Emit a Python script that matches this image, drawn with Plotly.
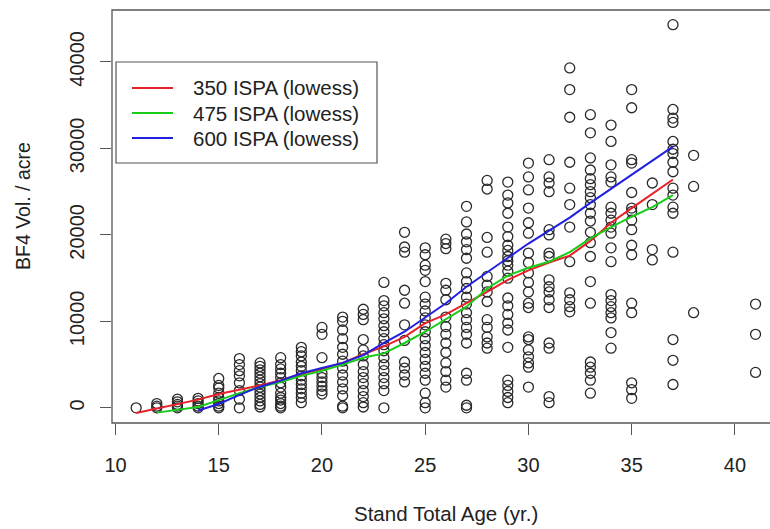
import plotly.graph_objects as go

# ---------------- data ----------------
vol_11 = [0]
vol_12 = [0, 200, 500]
vol_13 = [0, 200, 400, 700, 1000]
vol_14 = [0, 200, 500, 800, 1100]
vol_15 = [0, 200, 500, 800, 1200, 1700, 2300, 2600, 3400]
vol_16 = [5700, 5000, 4300, 3700, 2900, 2000, 1000, 0]
vol_17 = [5200, 4800, 4400, 4000, 3600, 3200, 2800, 2400, 2000, 1600, 1200, 800, 400, 100]
vol_18 = [5800, 5000, 4500, 4000, 3500, 2900, 2400, 1700, 1200, 900, 500, 200, 0]
vol_19 = [7000, 6500, 6000, 5300, 4800, 4300, 3700, 3200, 2700, 2200, 1700, 1200, 600]
vol_20 = [9300, 8500, 5800, 4000, 3500, 3000, 2500, 2000, 1600]
vol_21 = [10500, 10000, 9000, 8000, 7000, 6200, 5400, 4600, 3800, 3000, 2200, 1400, 200, 0]
vol_22 = [11400, 10800, 10200, 7900, 6700, 6000, 5000, 4200, 3500, 2800, 2000, 1300, 600, 100]
vol_23 = [14500, 12400, 11800, 11000, 10300, 9500, 8800, 8000, 7300, 6600, 5800, 5000,
          4300, 3500, 2800, 2000, 0]
vol_24 = [20300, 18600, 18000, 13600, 12100, 9600, 7800, 5300, 4600, 3800, 3000]
vol_25 = [18500, 17700, 16500, 15900, 14600, 12800, 12000, 11200, 10400, 9600, 8800, 8000,
          7200, 6400, 5600, 4800, 4000, 3200, 1700, 600, 0]
vol_26 = [19500, 19000, 18400, 14400, 13600, 12500, 10500, 9400, 8500, 7500, 6400, 5200,
          4200, 3200, 2400]
vol_27 = [23300, 21500, 20100, 19200, 18300, 17300, 15600, 14600, 13800, 12800, 12000,
          11000, 10200, 9300, 8500, 7500, 4000, 3200, 300, 0]
vol_28 = [26300, 25300, 19700, 18000, 15200, 14200, 13400, 12300, 10200, 9300, 8200, 7500, 6900]
vol_29 = [26100, 24600, 23700, 22500, 20900, 19800, 18800, 18200, 17500, 17000, 16500, 15800,
          15000, 12700, 11800, 10800, 9800, 9000, 7000, 3200, 2600, 1900, 1200, 600]
vol_30 = [28300, 26700, 25200, 23100, 21400, 20200, 17900, 16800, 15600, 14500, 13400, 12100,
          11600, 8200, 7900, 6700, 5900, 5200, 4700, 2400]
vol_31 = [28700, 26700, 26000, 25000, 20600, 20000, 17900, 17500, 14800, 14000, 13400, 12500,
          11600, 7500, 6900, 1300, 600]
vol_32 = [39300, 36800, 33600, 28400, 25400, 23500, 20900, 16900, 13300, 12500, 11700, 11100]
vol_33 = [33900, 31800, 28900, 27500, 26500, 25800, 25000, 24300, 23500, 22500, 21600, 20300,
          19100, 17500, 14600, 12100, 5300, 4700, 4000, 3200, 1700]
vol_34 = [32700, 30800, 28100, 26700, 26100, 23200, 22500, 21700, 20900, 20200, 18500, 16900,
          13100, 12400, 11700, 11000, 10400, 8700, 6900]
vol_35 = [36800, 34700, 28700, 28300, 24900, 23100, 22700, 21700, 20600, 18800, 17700, 12100,
          11000, 2900, 2100, 1100]
vol_36 = [26000, 23500, 18300, 17100]
vol_37 = [44300, 34500, 33500, 33000, 30800, 29900, 29400, 28400, 27300, 25400, 24600, 23200,
          22500, 18000, 7900, 5500, 2700]
vol_38 = [29200, 25600, 11000]
vol_41 = [12000, 8500, 4100]

ages = [11, 12, 13, 14, 15, 16, 17, 18, 19, 20, 21, 22, 23, 24, 25, 26, 27, 28, 29, 30,
        31, 32, 33, 34, 35, 36, 37, 38, 41]
vol_columns = [vol_11, vol_12, vol_13, vol_14, vol_15, vol_16, vol_17, vol_18, vol_19, vol_20,
               vol_21, vol_22, vol_23, vol_24, vol_25, vol_26, vol_27, vol_28, vol_29, vol_30,
               vol_31, vol_32, vol_33, vol_34, vol_35, vol_36, vol_37, vol_38, vol_41]

# lowess curves
low_x_350 = list(range(11, 38))
low_y_350 = [-600, -100, 450, 950, 1600, 2100, 2600, 3200, 3900, 4500, 5200, 6200, 7100, 8200,
             9800, 10800, 12100, 13400, 14800, 15900, 16800, 17600, 19300, 21400, 23100,
             24700, 26400]
low_x_475 = list(range(12, 38))
low_y_475 = [-550, -200, 100, 900, 1700, 2400, 3000, 3700, 4300, 5000, 5800, 6300, 7500, 8800,
             10200, 11700, 13800, 15300, 16200, 16900, 18000, 19600, 20900, 22100, 23200, 24600]
low_x_600 = list(range(14, 38))
low_y_600 = [-300, 450, 1500, 2450, 3150, 4000, 4600, 5200, 6100, 7500, 8800, 10400, 12100,
             14000, 15700, 17300, 19000, 20500, 22000, 23700, 25300, 27000, 28600, 30200]

series_names = ["350 ISPA (lowess)", "475 ISPA (lowess)", "600 ISPA (lowess)"]
series_colors = ["#e8202a", "#18cc18", "#2020e0"]

x_ticks = [10, 15, 20, 25, 30, 35, 40]
y_ticks = [0, 10000, 20000, 30000, 40000]
x_title = "Stand Total Age (yr.)"
y_title = "BF4 Vol. / acre"

# ---------------- figure ----------------
W, H = 770, 529
ML, MR, MT, MB = 112, 0, 10, 106
PW, PH = W - ML - MR, H - MT - MB
FONT = "Liberation Sans, Arial, sans-serif"
TXT = "#222222"


def px(x):
    return (x - ML) / PW


def py(y):
    return (H - MB - y) / PH


obs_x = [a for a, col in zip(ages, vol_columns) for _ in col]
obs_y = [v for col in vol_columns for v in col]

fig = go.Figure()
fig.add_trace(go.Scatter(
    x=obs_x, y=obs_y, mode="markers", showlegend=False,
    marker=dict(symbol="circle-open", size=10, color="#2a2a2a", line=dict(width=1.3)),
))
for xs, ys, c in [(low_x_350, low_y_350, series_colors[0]),
                  (low_x_475, low_y_475, series_colors[1]),
                  (low_x_600, low_y_600, series_colors[2])]:
    fig.add_trace(go.Scatter(x=xs, y=ys, mode="lines", showlegend=False,
                             line=dict(color=c, width=2)))

shapes = []
annotations = []
# plot frame (right side runs past the window edge like the reference)
shapes.append(dict(type="rect", xref="paper", yref="paper", x0=0, x1=1.05, y0=0, y1=1,
                   line=dict(color="#555555", width=1.3), layer="above"))
# legend box
shapes.append(dict(type="rect", xref="paper", yref="paper", x0=px(116), x1=px(377),
                   y0=py(163), y1=py(62), line=dict(color="#555555", width=1.2),
                   fillcolor="white", layer="above"))
for i, (name, c) in enumerate(zip(series_names, series_colors)):
    yy = 88 + 25 * i
    shapes.append(dict(type="line", xref="paper", yref="paper", x0=px(132), x1=px(173),
                       y0=py(yy), y1=py(yy), line=dict(color=c, width=2), layer="above"))
    annotations.append(dict(text=name, xref="paper", yref="paper", x=px(191), y=py(yy),
                            xanchor="left", yanchor="middle", showarrow=False,
                            font=dict(family=FONT, size=20.5, color=TXT)))

annotations.append(dict(text=x_title, xref="paper", yref="paper", x=px(446), y=py(513),
                        xanchor="center", yanchor="middle", showarrow=False,
                        font=dict(family=FONT, size=20.5, color=TXT)))
annotations.append(dict(text=y_title, xref="paper", yref="paper", x=px(23), y=py(206),
                        xanchor="center", yanchor="middle", showarrow=False, textangle=-90,
                        font=dict(family=FONT, size=19.5, color=TXT)))

fig.update_layout(
    width=W, height=H,
    margin=dict(l=ML, r=MR, t=MT, b=MB, pad=0),
    paper_bgcolor="white", plot_bgcolor="white",
    shapes=shapes, annotations=annotations,
    font=dict(family=FONT, size=20, color=TXT),
    xaxis=dict(range=[9.83, 41.70], tickvals=x_ticks, ticktext=[str(t) for t in x_ticks],
               ticks="outside", ticklen=11, tickwidth=1, tickcolor="#555555",
               showgrid=False, zeroline=False, showline=False,
               ticklabelstandoff=13,
               tickfont=dict(family=FONT, size=20, color=TXT)),
    yaxis=dict(range=[-1750, 46000], tickvals=y_ticks, ticktext=[str(t) for t in y_ticks],
               ticks="outside", ticklen=11, tickwidth=1, tickcolor="#555555",
               showgrid=False, zeroline=False, showline=False, tickangle=-90,
               ticklabelstandoff=8,
               tickfont=dict(family=FONT, size=20, color=TXT)),
)

fig.write_html("out.html")
